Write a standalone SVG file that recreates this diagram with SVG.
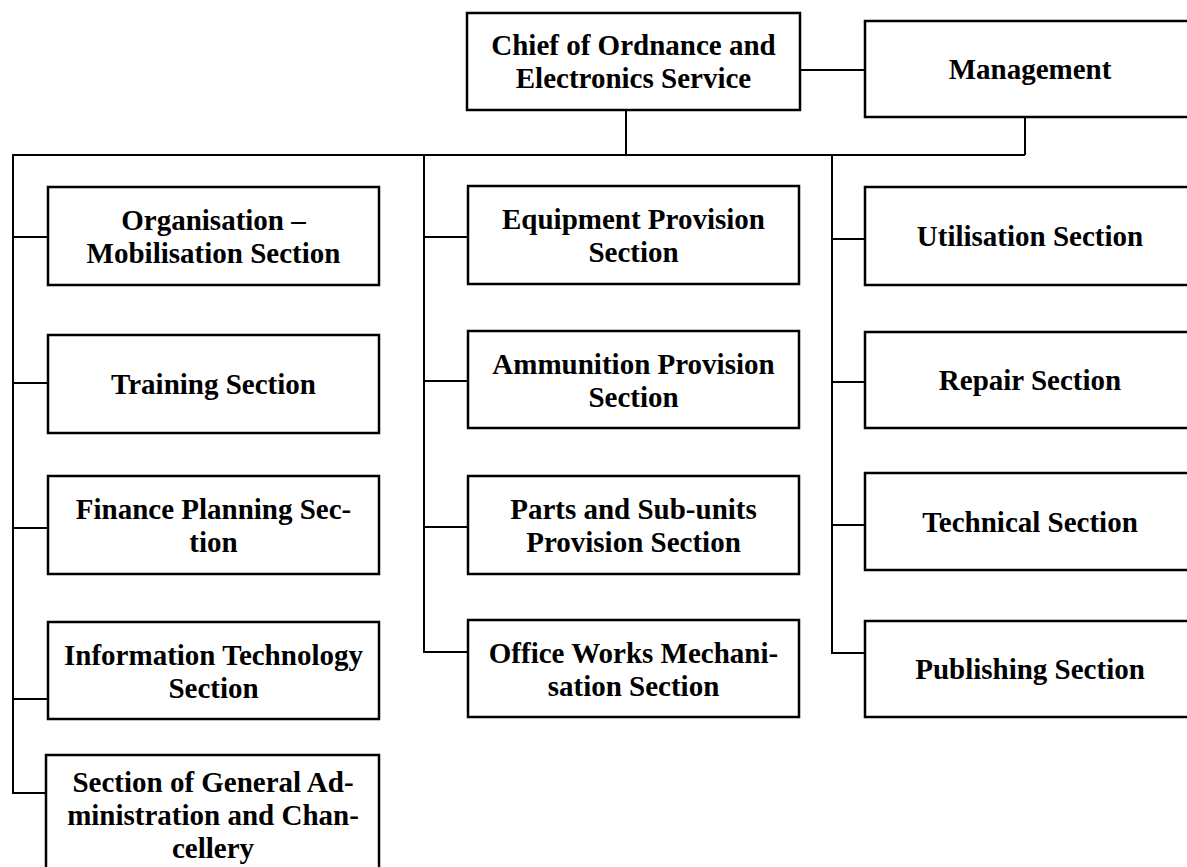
<svg xmlns="http://www.w3.org/2000/svg" width="1187" height="867" viewBox="0 0 1187 867">
<style>
.box{fill:#fff;stroke:#000;stroke-width:2.5}
.ln{fill:none;stroke:#000;stroke-width:2}
text{font-family:"Liberation Serif","Times New Roman",serif;font-weight:bold;font-size:29px;fill:#000;text-anchor:middle}
</style>
<rect width="1187" height="867" fill="#fff"/>
<g id="connectors">
<path class="ln" d="M800 70H865"/>
<path class="ln" d="M626 110V155"/>
<path class="ln" d="M1025 117V155"/>
<path class="ln" d="M12 155H1025"/>
<path class="ln" d="M13 155V793H46"/>
<path class="ln" d="M13 237H48M13 383H48M13 528H48M13 699H48"/>
<path class="ln" d="M424 155V652H468"/>
<path class="ln" d="M424 237H468M424 381H468M424 527H468"/>
<path class="ln" d="M832 155V653H865"/>
<path class="ln" d="M832 239H865M832 382H865M832 525H865"/>
</g>
<g id="chief"><rect class="box" x="467" y="13" width="333" height="97"/><text x="633.5" y="55">Chief of Ordnance and</text><text x="633.5" y="88">Electronics Service</text></g>
<g id="management"><rect class="box" x="865" y="21" width="331" height="96"/><text x="1030" y="79">Management</text></g>
<g id="organisation"><rect class="box" x="48" y="187" width="331" height="98"/><text x="213.5" y="230">Organisation –</text><text x="213.5" y="263">Mobilisation Section</text></g>
<g id="training"><rect class="box" x="48" y="335" width="331" height="98"/><text x="213.5" y="394">Training Section</text></g>
<g id="finance"><rect class="box" x="48" y="476" width="331" height="98"/><text x="213.5" y="519">Finance Planning Sec-</text><text x="213.5" y="552">tion</text></g>
<g id="it"><rect class="box" x="48" y="622" width="331" height="97"/><text x="213.5" y="665">Information Technology</text><text x="213.5" y="698">Section</text></g>
<g id="general"><rect class="box" x="46" y="755" width="333" height="130"/><text x="213" y="792">Section of General Ad-</text><text x="213" y="825">ministration and Chan-</text><text x="213" y="858">cellery</text></g>
<g id="equipment"><rect class="box" x="468" y="186" width="331" height="98"/><text x="633.5" y="229">Equipment Provision</text><text x="633.5" y="262">Section</text></g>
<g id="ammunition"><rect class="box" x="468" y="331" width="331" height="97"/><text x="633.5" y="374">Ammunition Provision</text><text x="633.5" y="407">Section</text></g>
<g id="parts"><rect class="box" x="468" y="476" width="331" height="98"/><text x="633.5" y="519">Parts and Sub-units</text><text x="633.5" y="552">Provision Section</text></g>
<g id="office"><rect class="box" x="468" y="620" width="331" height="97"/><text x="633.5" y="663">Office Works Mechani-</text><text x="633.5" y="696">sation Section</text></g>
<g id="utilisation"><rect class="box" x="865" y="187" width="331" height="98"/><text x="1030" y="246">Utilisation Section</text></g>
<g id="repair"><rect class="box" x="865" y="332" width="331" height="96"/><text x="1030" y="390">Repair Section</text></g>
<g id="technical"><rect class="box" x="865" y="473" width="331" height="97"/><text x="1030" y="532">Technical Section</text></g>
<g id="publishing"><rect class="box" x="865" y="621" width="331" height="96"/><text x="1030" y="679">Publishing Section</text></g>
</svg>
